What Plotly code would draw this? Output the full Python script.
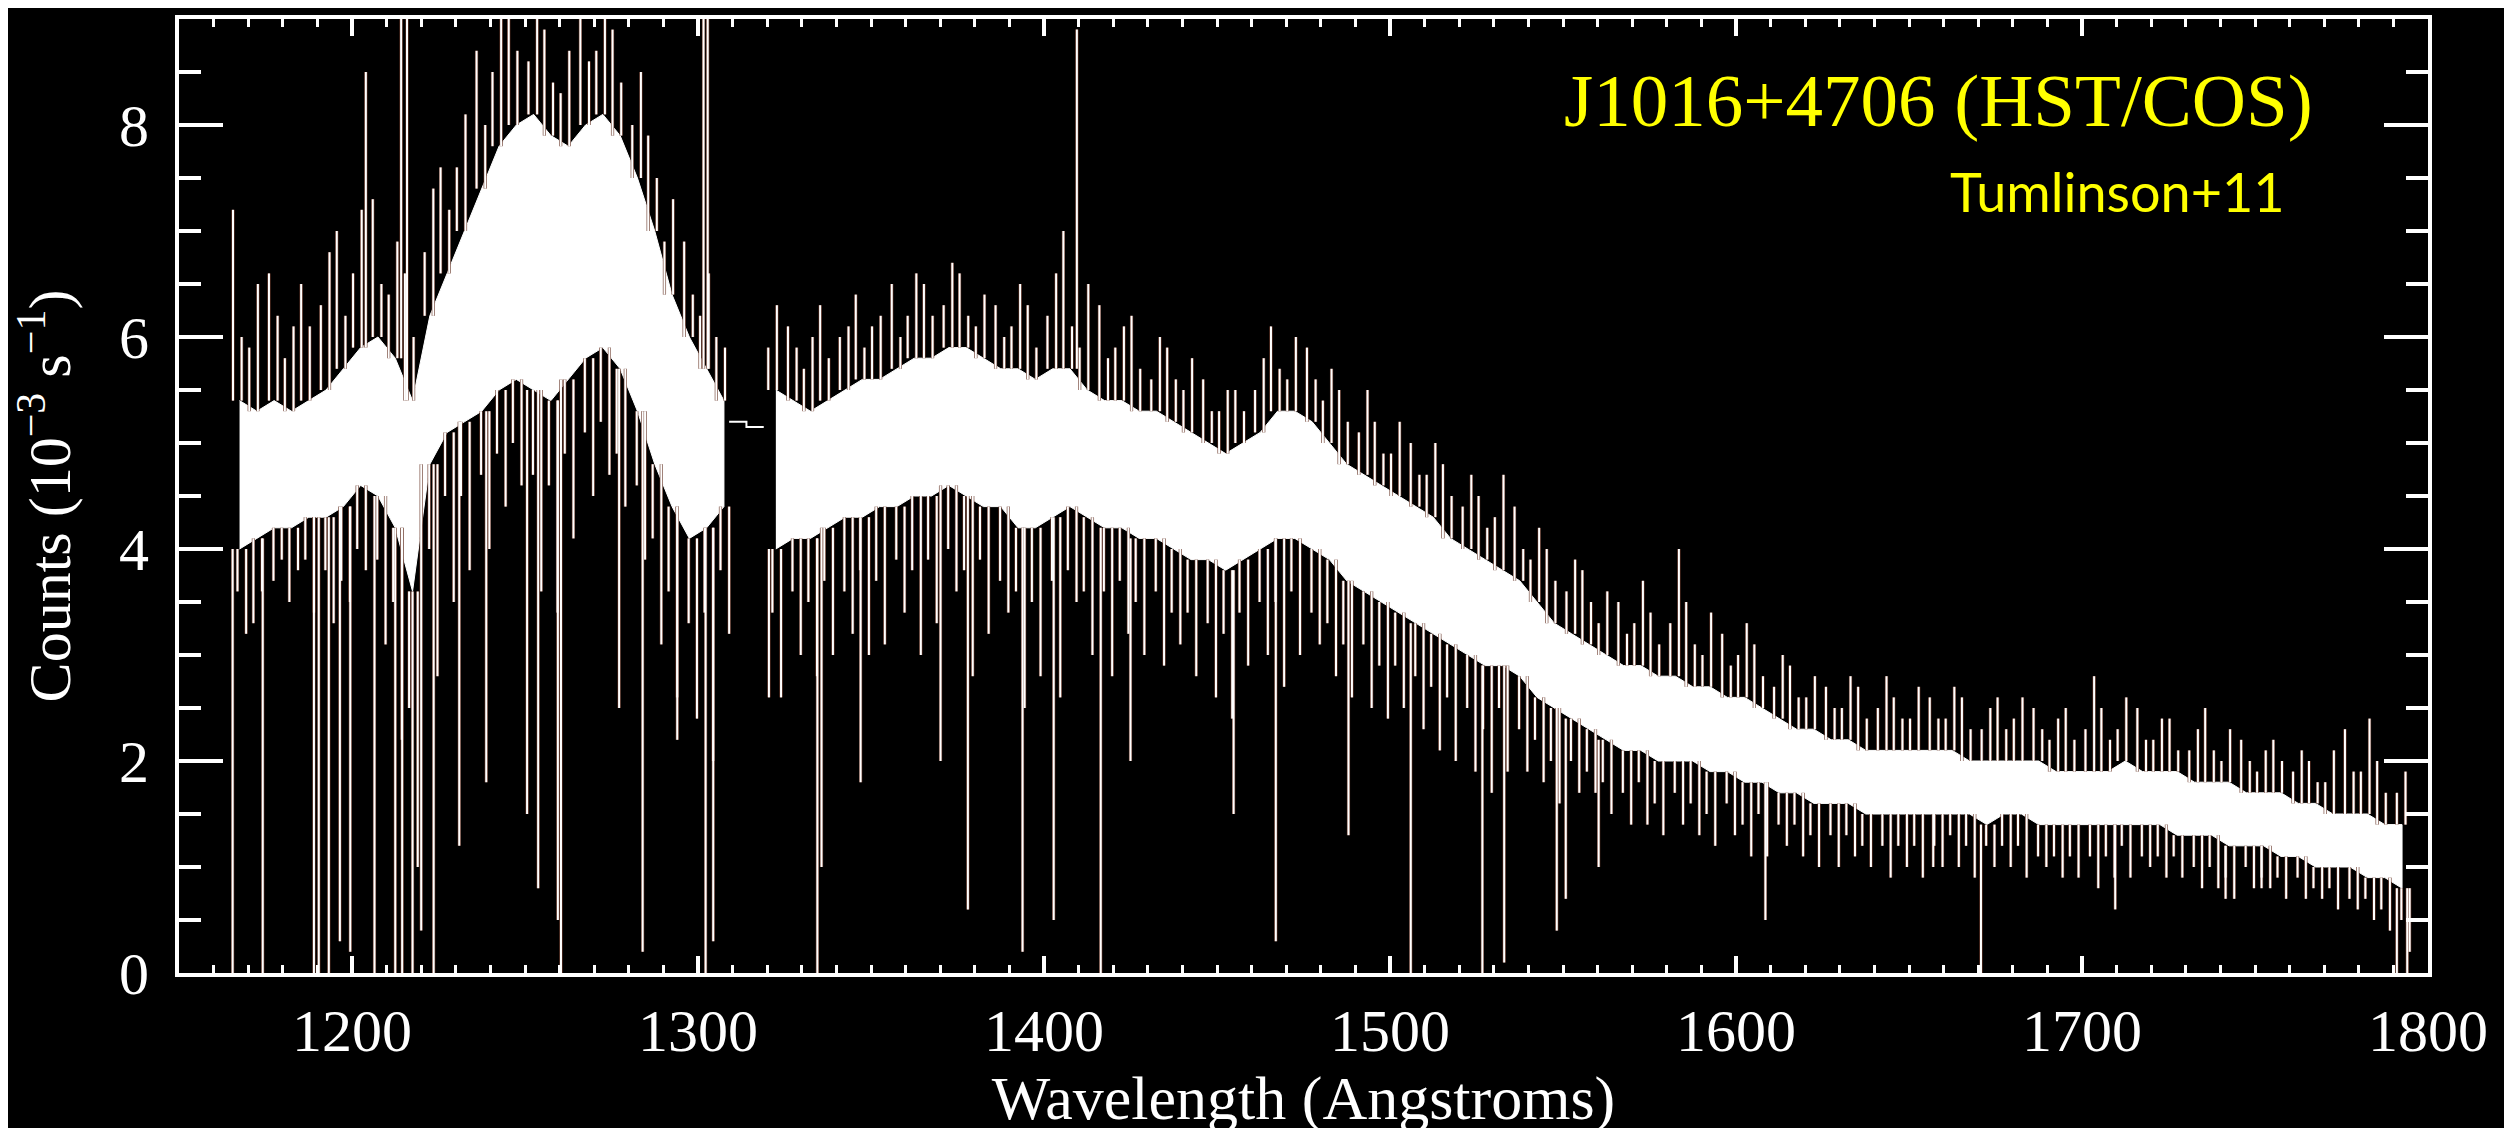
import numpy as np
import plotly.graph_objects as go

# 5 Angstrom bins over the spectrum (1165 - 1795 A)
bin_center = np.arange(1167.5, 1795, 5)

# dense part of the noisy spectrum: lower and upper edge of the white band
core_lo = [4.0, 4.1, 4.2, 4.2, 4.3, 4.3, 4.4, 4.6, 4.5, 4.2,
           3.6, 4.8, 5.1, 5.2, 5.3, 5.5, 5.6, 5.5, 5.4, 5.6,
           5.8, 5.9, 5.7, 5.3, 4.8, 4.4, 4.1, 4.2, 4.4, None,
           None, 4.0, 4.1, 4.1, 4.2, 4.3, 4.3, 4.4, 4.4, 4.5,
           4.5, 4.6, 4.5, 4.4, 4.4, 4.2, 4.2, 4.3, 4.4, 4.3,
           4.2, 4.2, 4.1, 4.1, 4.0, 3.9, 3.9, 3.8, 3.9, 4.0,
           4.1, 4.1, 4.0, 3.9, 3.7, 3.6, 3.5, 3.4, 3.3, 3.2,
           3.1, 3.0, 2.9, 2.9, 2.8, 2.6, 2.5, 2.4, 2.3, 2.2,
           2.1, 2.1, 2.0, 2.0, 2.0, 1.9, 1.9, 1.8, 1.8, 1.7,
           1.7, 1.6, 1.6, 1.6, 1.5, 1.5, 1.5, 1.5, 1.5, 1.5,
           1.5, 1.4, 1.5, 1.5, 1.4, 1.4, 1.4, 1.4, 1.4, 1.4,
           1.4, 1.4, 1.3, 1.3, 1.3, 1.2, 1.2, 1.2, 1.1, 1.1,
           1.0, 1.0, 1.0, 0.9, 0.9, 0.8]
core_hi = [5.4, 5.3, 5.4, 5.3, 5.4, 5.5, 5.7, 5.9, 6.0, 5.8,
           5.4, 6.2, 6.6, 7.0, 7.4, 7.8, 8.0, 8.1, 7.9, 7.8,
           8.0, 8.1, 7.9, 7.5, 7.0, 6.4, 6.0, 5.7, 5.4, None,
           None, 5.5, 5.4, 5.3, 5.4, 5.5, 5.6, 5.6, 5.7, 5.8,
           5.8, 5.9, 5.9, 5.8, 5.7, 5.7, 5.6, 5.7, 5.7, 5.5,
           5.4, 5.4, 5.3, 5.3, 5.2, 5.1, 5.0, 4.9, 5.0, 5.1,
           5.3, 5.3, 5.2, 5.0, 4.8, 4.7, 4.6, 4.5, 4.4, 4.3,
           4.1, 4.0, 3.9, 3.8, 3.7, 3.5, 3.3, 3.2, 3.1, 3.0,
           2.9, 2.9, 2.8, 2.8, 2.7, 2.7, 2.6, 2.6, 2.5, 2.4,
           2.3, 2.3, 2.2, 2.2, 2.1, 2.1, 2.1, 2.1, 2.1, 2.1,
           2.0, 2.0, 2.0, 2.0, 2.0, 1.9, 1.9, 1.9, 1.9, 2.0,
           1.9, 1.9, 1.9, 1.8, 1.8, 1.8, 1.7, 1.7, 1.7, 1.6,
           1.6, 1.5, 1.5, 1.5, 1.4, 1.4]
# tallest noise spike above / deepest below the band in each bin
spike_top = [7.2, 6.5, 6.6, 6.1, 6.5, 6.8, 7.0, 7.2, 7.3, 6.9,
             6.6, 7.4, 7.6, 8.1, 8.7, 9.2, 9.3, 9.2, 8.9, 8.7,
             9.1, 9.2, 8.9, 8.5, 7.9, 7.3, 6.9, 6.6, 6.0, None,
             None, 6.3, 6.1, 6.0, 6.3, 6.1, 6.4, 6.2, 6.5, 6.6,
             6.5, 6.7, 6.6, 6.4, 6.3, 6.5, 6.3, 6.6, 7.0, 6.5,
             6.3, 6.1, 6.2, 6.0, 5.9, 5.8, 5.6, 5.5, 5.5, 5.8,
             6.1, 6.0, 5.9, 5.7, 5.5, 5.5, 5.2, 5.2, 5.0, 5.0,
             4.8, 4.7, 4.5, 4.7, 4.4, 4.2, 4.0, 3.9, 3.8, 3.6,
             3.5, 3.7, 3.4, 4.0, 3.5, 3.4, 3.2, 3.3, 3.1, 3.0,
             2.9, 2.8, 2.7, 2.8, 2.7, 2.8, 2.6, 2.7, 2.6, 2.7,
             2.6, 2.5, 2.6, 2.6, 2.5, 2.4, 2.5, 2.8, 2.5, 2.6,
             2.5, 2.4, 2.4, 2.3, 2.5, 2.3, 2.2, 2.1, 2.2, 2.1,
             2.0, 2.1, 2.3, 2.4, 2.0, 1.9]
spike_bot = [3.2, 3.6, 3.9, 3.8, 3.4, 3.3, 3.5, 3.8, 3.1, 2.2,
             1.0, 2.8, 3.5, 3.8, 4.0, 4.4, 4.6, 3.6, 3.4, 4.1,
             4.5, 4.7, 4.4, 3.9, 3.1, 2.6, 2.4, 2.0, 3.2, None,
             None, 2.6, 3.0, 2.8, 3.0, 3.2, 3.0, 3.1, 3.4, 3.0,
             3.3, 3.6, 2.8, 3.2, 3.4, 2.5, 2.8, 2.6, 3.5, 3.0,
             2.8, 3.2, 3.0, 2.9, 3.1, 2.8, 2.6, 2.4, 2.9, 3.0,
             2.7, 3.0, 3.1, 2.8, 2.6, 2.5, 2.4, 2.5, 2.3, 2.1,
             2.0, 1.9, 1.7, 1.9, 1.9, 1.8, 1.6, 1.7, 1.7, 1.5,
             1.4, 1.4, 1.3, 1.4, 1.3, 1.2, 1.3, 1.1, 1.1, 1.2,
             1.1, 1.0, 1.0, 1.1, 1.0, 0.9, 1.0, 0.9, 1.0, 1.0,
             0.9, 1.0, 1.0, 0.9, 1.0, 0.9, 0.9, 0.8, 0.9, 0.9,
             1.0, 0.9, 0.9, 0.8, 0.8, 0.7, 0.8, 0.8, 0.7, 0.7,
             0.7, 0.6, 0.6, 0.5, 0.4, 0.2]
# second, smaller spike above / below the band in each bin
spike_top2 = [6.0, 5.9, 6.2, 5.8, 6.1, 6.3, 6.2, 6.6, 6.5, 6.4,
              6.0, 6.8, 7.2, 7.6, 8.0, 8.5, 8.7, 8.6, 8.4, 8.3,
              8.6, 8.7, 8.4, 8.0, 7.5, 6.9, 6.4, 6.2, 5.9, None,
              None, 5.9, 5.9, 5.7, 5.8, 6.0, 5.9, 6.1, 6.0, 6.2,
              6.2, 6.3, 6.2, 6.1, 6.0, 6.1, 5.9, 6.2, 6.1, 5.9,
              5.8, 5.9, 5.7, 5.6, 5.6, 5.5, 5.3, 5.3, 5.3, 5.5,
              5.7, 5.6, 5.6, 5.4, 5.2, 5.1, 4.9, 4.9, 4.7, 4.7,
              4.5, 4.4, 4.2, 4.3, 4.0, 3.9, 3.7, 3.6, 3.5, 3.3,
              3.2, 3.3, 3.1, 3.3, 3.1, 3.0, 2.9, 3.0, 2.8, 2.7,
              2.6, 2.6, 2.5, 2.5, 2.4, 2.5, 2.4, 2.4, 2.4, 2.4,
              2.3, 2.3, 2.3, 2.4, 2.3, 2.2, 2.2, 2.3, 2.2, 2.3,
              2.2, 2.2, 2.1, 2.1, 2.1, 2.0, 2.0, 1.9, 2.0, 1.9,
              1.8, 1.8, 1.9, 1.9, 1.7, 1.7]
spike_bot2 = [3.6, 3.3, 3.7, 3.5, 3.9, 3.8, 3.7, 4.0, 3.9, 3.5,
              2.5, 4.0, 4.5, 4.5, 4.7, 4.9, 5.0, 4.7, 4.6, 4.9,
              5.1, 5.2, 4.9, 4.6, 4.1, 3.6, 3.3, 3.4, 3.8, None,
              None, 3.4, 3.6, 3.5, 3.7, 3.6, 3.8, 3.7, 3.9, 3.8,
              3.9, 4.0, 3.8, 3.9, 3.7, 3.6, 3.5, 3.7, 3.8, 3.6,
              3.6, 3.7, 3.5, 3.6, 3.4, 3.4, 3.3, 3.2, 3.4, 3.5,
              3.5, 3.6, 3.4, 3.3, 3.1, 3.1, 2.9, 2.9, 2.8, 2.7,
              2.6, 2.5, 2.3, 2.5, 2.3, 2.2, 2.0, 2.0, 1.9, 1.8,
              1.7, 1.8, 1.6, 1.7, 1.6, 1.5, 1.6, 1.4, 1.5, 1.4,
              1.4, 1.3, 1.3, 1.3, 1.2, 1.2, 1.2, 1.2, 1.2, 1.3,
              1.2, 1.2, 1.2, 1.2, 1.1, 1.1, 1.1, 1.1, 1.1, 1.2,
              1.1, 1.1, 1.1, 1.0, 1.0, 0.9, 1.0, 0.9, 0.9, 0.9,
              0.8, 0.8, 0.7, 0.7, 0.6, 0.5]

# strong narrow absorption lines: wavelength and lowest count
abs_wave = [1165.5, 1174.2, 1189.0, 1190.4, 1193.3, 1196.5, 1199.5, 1206.5,
            1212.5, 1214.5, 1217.5, 1220.0, 1223.6, 1231.0, 1238.8, 1250.6,
            1253.8, 1259.5, 1260.4, 1277.2, 1284.0, 1294.0, 1302.2, 1304.4,
            1320.5, 1334.5, 1335.7, 1347.0, 1370.1, 1378.0, 1393.8, 1402.8,
            1416.4, 1425.0, 1454.8, 1467.0, 1488.0, 1506.0, 1526.7, 1533.0,
            1548.2, 1550.8, 1560.3, 1608.5, 1657.0, 1670.8, 1709.6, 1741.5,
            1751.9, 1791.0, 1794.0]
abs_min = [0.0, 0.0, 0.0, 0.0, 0.0, 0.3, 0.2, 0.0,
           0.0, 0.0, 0.0, 0.4, 0.0, 1.2, 1.8, 1.5,
           0.8, 0.5, 0.0, 2.5, 0.2, 2.2, 0.0, 0.3,
           2.6, 0.0, 1.0, 1.8, 2.0, 0.6, 0.2, 0.5,
           0.0, 2.0, 1.5, 0.3, 1.3, 0.0, 0.0, 0.1,
           0.4, 0.7, 1.0, 0.5, 1.0, 0.0, 0.6, 0.7,
           0.8, 0.0, 0.0]

# narrow emission spikes (geocoronal Ly-alpha, O I and a hot pixel)
emi_wave = [1204.0, 1214.2, 1215.9, 1301.6, 1302.8, 1409.5]
emi_max = [8.5, 9.5, 9.5, 9.5, 9.5, 8.9]

# detector gap bridged by a flat segment
gap_wave = [1309.0, 1314.0, 1319.0]
gap_flux = [5.2, 5.15, 5.15]

# where the four strokes sit inside a bin (cycled so they do not form a comb)
stroke_offsets = [(-1.9, -0.6, 0.6, 1.9), (-2.2, -1.0, 0.3, 1.5), (-1.5, -0.2, 1.0, 2.2)]


def bin_index(w):
    return int((w - 1165) // 5)


# vertical noise strokes, four per bin
sx, sy = [], []
for i, c in enumerate(bin_center):
    if core_lo[i] is None:
        continue
    lo, hi = core_lo[i], core_hi[i]
    o = stroke_offsets[i % len(stroke_offsets)]
    ups = [(spike_top[i], spike_top2[i]), (spike_top2[i], spike_top[i])][i % 2]
    sx += [c + o[0], c + o[0], None, c + o[1], c + o[1], None,
           c + o[2], c + o[2], None, c + o[3], c + o[3], None]
    sy += [hi, ups[0], None, lo, spike_bot2[i], None,
           hi, ups[1], None, lo, spike_bot[i], None]

for w, m in zip(abs_wave, abs_min):
    lo = core_lo[bin_index(w)]
    sx += [w, w, None]
    sy += [5.2 if lo is None else lo, m, None]

for w, m in zip(emi_wave, emi_max):
    hi = core_hi[bin_index(w)]
    sx += [w, w, None]
    sy += [5.2 if hi is None else hi, m, None]

fig = go.Figure()

# white band, one filled polygon per side of the detector gap
segments, cur = [], []
for i in range(len(bin_center)):
    if core_lo[i] is None:
        if cur:
            segments.append(cur)
        cur = []
    else:
        cur.append(i)
if cur:
    segments.append(cur)

for seg in segments:
    px = [bin_center[i] for i in seg] + [bin_center[i] for i in seg[::-1]]
    py = [core_hi[i] for i in seg] + [core_lo[i] for i in seg[::-1]]
    fig.add_trace(go.Scatter(x=px, y=py, mode="lines", fill="toself",
                             fillcolor="white", line=dict(color="white", width=1)))

# brownish halo first, white stroke on top
fig.add_trace(go.Scatter(x=sx, y=sy, mode="lines",
                         line=dict(color="#6a3a2c", width=3.2)))
fig.add_trace(go.Scatter(x=sx, y=sy, mode="lines",
                         line=dict(color="white", width=2)))
fig.add_trace(go.Scatter(x=gap_wave, y=gap_flux, mode="lines",
                         line=dict(color="white", width=2, shape="hv")))

fig.add_annotation(text="J1016+4706 (HST/COS)", xref="paper", yref="y",
                   x=0.9498, y=8.23, xanchor="right", yanchor="middle",
                   showarrow=False,
                   font=dict(family="Liberation Serif", size=75, color="#ffff00"))
fig.add_annotation(text="Tumlinson+11", xref="paper", yref="y",
                   x=0.9375, y=7.37, xanchor="right", yanchor="middle",
                   showarrow=False,
                   font=dict(family="Lato", size=54, color="#ffff00"))

axis_font = dict(family="Liberation Serif", size=60, color="white")

fig.update_xaxes(
    range=[1150, 1800], tick0=1200, dtick=100, automargin=False,
    ticks="inside", ticklen=17, tickwidth=4, tickcolor="white",
    minor=dict(dtick=10, ticks="inside", ticklen=8, tickwidth=3, tickcolor="white"),
    showline=True, linewidth=4, linecolor="white", mirror="ticks",
    showgrid=False, zeroline=False,
    tickfont=axis_font, ticklabelstandoff=2,
    title=dict(text="Wavelength (Angstroms)",
               font=dict(family="Liberation Serif", size=62, color="white"),
               standoff=4),
)
fig.update_yaxes(
    range=[0, 9], dtick=2, automargin=False,
    ticks="inside", ticklen=44, tickwidth=4, tickcolor="white",
    minor=dict(dtick=0.5, ticks="inside", ticklen=22, tickwidth=4, tickcolor="white"),
    showline=True, linewidth=4, linecolor="white", mirror="ticks",
    showgrid=False, zeroline=False,
    tickfont=axis_font, ticklabelstandoff=14,
    title=dict(text="Counts (10<sup>−3</sup> s<sup>−1</sup>)",
               font=dict(family="Liberation Serif", size=60, color="white"),
               standoff=30),
)

fig.update_layout(
    width=2512, height=1128,
    paper_bgcolor="black", plot_bgcolor="black",
    margin=dict(l=171, r=92, t=11, b=163),
    showlegend=False,
)

fig.write_html("out.html")
